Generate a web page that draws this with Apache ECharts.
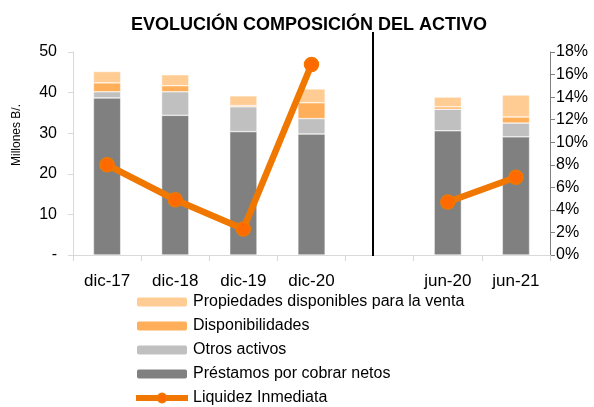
<!DOCTYPE html>
<html>
<head>
<meta charset="utf-8">
<script src="https://cdn.jsdelivr.net/npm/echarts@6/dist/echarts.min.js"></script>
<style>
  html, body { margin: 0; padding: 0; background: #fff; }
  #chart { width: 594px; height: 407px; }
</style>
</head>
<body>
<div id="chart"></div>
<script>
// datos (Millones B/. y %)
var categorias = ['dic-17', 'dic-18', 'dic-19', 'dic-20', '', 'jun-20', 'jun-21'];
var prestamos = [38.7, 34.4, 30.4, 29.8, null, 30.6, 29.1];
var otrosActivos = [1.5, 5.8, 6.1, 3.8, null, 5.3, 3.4];
var disponibilidades = [2.2, 1.5, 0.3, 3.9, null, 0.6, 1.5];
var propiedades = [2.8, 2.7, 2.4, 3.4, null, 2.4, 5.4];
var liquidez = [8.0, 4.9, 2.3, 16.9, null, 4.7, 6.9];

var fuente = 'Liberation Sans, Arial, sans-serif';

var myChart = echarts.init(document.getElementById('chart'));

var option = {
  animation: false,
  textStyle: { fontFamily: fuente },
  title: {
    text: 'EVOLUCIÓN COMPOSICIÓN DEL ACTIVO',
    left: 304,
    top: 11,
    textAlign: 'center',
    textStyle: { fontSize: 18, fontWeight: 'bold', color: '#000', fontFamily: fuente }
  },
  legend: {
    orient: 'vertical',
    left: 128,
    top: 289,
    height: 150,
    itemGap: 8,
    itemWidth: 52,
    itemHeight: 11,
    textStyle: { fontSize: 16, color: '#000', fontFamily: fuente },
    data: [
      'Propiedades disponibles para la venta',
      'Disponibilidades',
      'Otros activos',
      'Préstamos por cobrar netos',
      { name: 'Liquidez Inmediata', lineStyle: { width: 6 } }
    ]
  },
  grid: { left: 73, right: 44, top: 52, bottom: 152 },
  xAxis: {
    type: 'category',
    data: categorias,
    axisLine: { lineStyle: { color: '#d9d9d9' } },
    axisTick: { show: true, length: 6, lineStyle: { color: '#d9d9d9' } },
    axisLabel: { fontSize: 17, color: '#000', margin: 18 }
  },
  yAxis: [
    {
      type: 'value',
      min: 0,
      max: 50,
      interval: 10,
      axisLine: { show: true, lineStyle: { color: '#d9d9d9' } },
      axisTick: { show: true, length: 5, lineStyle: { color: '#d9d9d9' } },
      splitLine: { show: false },
      axisLabel: {
        fontSize: 16, color: '#000', margin: 16,
        formatter: function (v) { return v === 0 ? '-' : v; }
      }
    },
    {
      type: 'value',
      min: 0,
      max: 18,
      interval: 2,
      position: 'right',
      axisLine: { show: true, lineStyle: { color: '#808080' } },
      axisTick: { show: true, length: 5, lineStyle: { color: '#808080' } },
      splitLine: { show: false },
      axisLabel: { fontSize: 16, color: '#000', margin: 6, formatter: '{value}%' }
    }
  ],
  graphic: [
    // titulo del eje izquierdo
    {
      type: 'text',
      x: 17,
      y: 135,
      rotation: Math.PI / 2,
      style: {
        text: 'Millones B/.',
        fontSize: 12,
        fontFamily: fuente,
        fill: '#000',
        align: 'center',
        verticalAlign: 'middle'
      }
    },
    // linea divisoria entre anual y semestral
    {
      type: 'line',
      shape: { x1: 373, y1: 32, x2: 373, y2: 256 },
      style: { stroke: '#000', lineWidth: 2 },
      z: 10
    }
  ],
  series: [
    {
      name: 'Préstamos por cobrar netos',
      type: 'bar',
      stack: 'activo',
      barWidth: '40%',
      data: prestamos,
      itemStyle: { color: '#808080', borderColor: '#fff', borderWidth: 0.5 }
    },
    {
      name: 'Otros activos',
      type: 'bar',
      stack: 'activo',
      data: otrosActivos,
      itemStyle: { color: '#c0c0c0', borderColor: '#fff', borderWidth: 0.5 }
    },
    {
      name: 'Disponibilidades',
      type: 'bar',
      stack: 'activo',
      data: disponibilidades,
      itemStyle: { color: '#ffaf5a', borderColor: '#fff', borderWidth: 0.5 }
    },
    {
      name: 'Propiedades disponibles para la venta',
      type: 'bar',
      stack: 'activo',
      data: propiedades,
      itemStyle: { color: '#ffcc94', borderColor: '#fff', borderWidth: 0.5 }
    },
    {
      name: 'Liquidez Inmediata',
      type: 'line',
      yAxisIndex: 1,
      data: liquidez,
      connectNulls: false,
      symbol: 'circle',
      symbolSize: 14,
      lineStyle: { color: '#f07800', width: 6.5 },
      itemStyle: { color: '#ff6a00', borderColor: '#f07800', borderWidth: 1.5 },
      z: 5
    }
  ]
};

myChart.setOption(option, true);
</script>
</body>
</html>
